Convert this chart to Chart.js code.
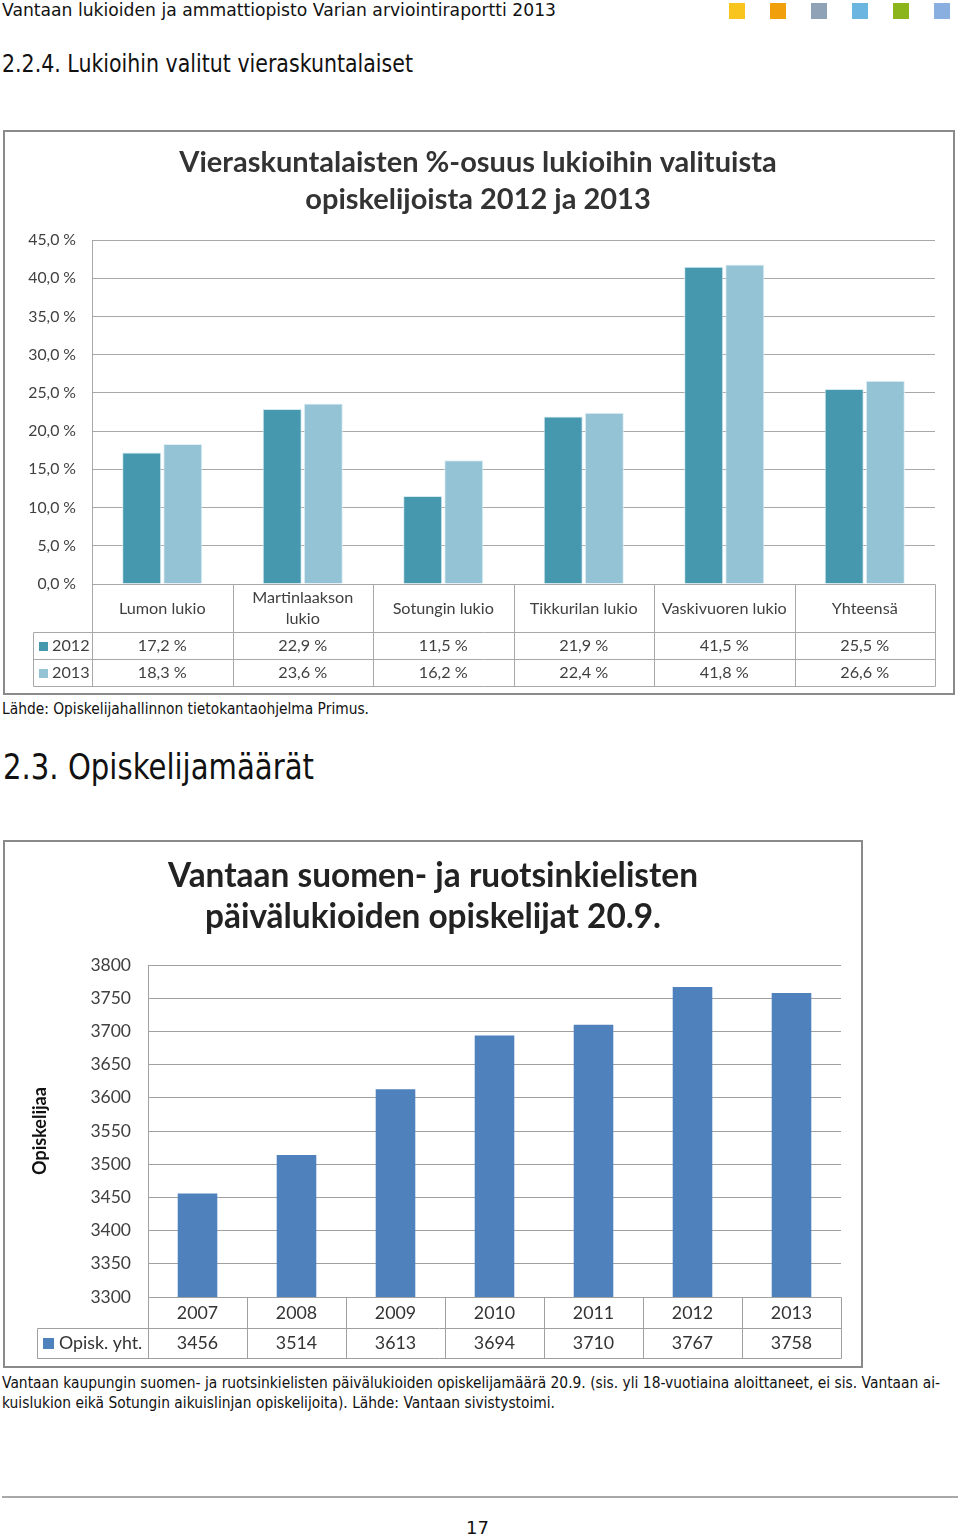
<!DOCTYPE html>
<html>
<head>
<meta charset="utf-8">
<script src="https://cdn.jsdelivr.net/npm/chart.js@4.4.1/dist/chart.umd.min.js"></script>
<style>
  body { margin: 0; background: #fff; width: 960px; height: 1539px; position: relative; overflow: hidden; }
  .t { position: absolute; font-family: "DejaVu Sans", sans-serif; color: #111; white-space: nowrap; transform-origin: 0 50%; }
  .sq { position: absolute; top: 3px; width: 16px; height: 16px; }
  .frame { position: absolute; border: 2px solid #8a8a8a; background: #fff; }
  .frame div { position: relative; width: 100%; height: 100%; }
</style>
</head>
<body>
<div class="t" data-w="554" style="left:2px;top:0;font-size:17px;line-height:20px">Vantaan lukioiden ja ammattiopisto Varian arviointiraportti 2013</div>
<div class="sq" style="left:729px;background:#f8c51f"></div>
<div class="sq" style="left:770px;background:#f29f0c"></div>
<div class="sq" style="left:811px;background:#8fa2b6"></div>
<div class="sq" style="left:852px;background:#6db5e1"></div>
<div class="sq" style="left:893px;background:#8cb51b"></div>
<div class="sq" style="left:934px;background:#88afdf"></div>
<div class="t" data-w="411" style="left:2px;top:49px;font-size:24px;line-height:30px">2.2.4. Lukioihin valitut vieraskuntalaiset</div>

<div class="frame" style="left:3px;top:130px;width:948px;height:561px"><div><canvas id="share"></canvas></div></div>

<div class="t" data-w="367" style="left:2px;top:700px;font-size:15px;line-height:18px">Lähde: Opiskelijahallinnon tietokantaohjelma Primus.</div>
<div class="t" data-w="311" style="left:3px;top:747px;font-size:35px;line-height:40px">2.3. Opiskelijamäärät</div>

<div class="frame" style="left:3px;top:840px;width:856px;height:524px"><div><canvas id="students"></canvas></div></div>

<div class="t" data-w="938" style="left:2px;top:1374px;font-size:15px;line-height:18px">Vantaan kaupungin suomen- ja ruotsinkielisten päivälukioiden opiskelijamäärä 20.9. (sis. yli 18-vuotiaina aloittaneet, ei sis. Vantaan ai-</div>
<div class="t" data-w="553" style="left:2px;top:1394px;font-size:15px;line-height:18px">kuislukion eikä Sotungin aikuislinjan opiskelijoita). Lähde: Vantaan sivistystoimi.</div>
<div style="position:absolute;left:2px;top:1496px;width:956px;height:2px;background:#a8a8a8"></div>
<div class="t" style="left:466px;top:1518px;font-size:18px;line-height:20px">17</div>

<script>
const schools = ['Lumon lukio', ['Martinlaakson', 'lukio'], 'Sotungin lukio', 'Tikkurilan lukio', 'Vaskivuoren lukio', 'Yhteensä'];
const share2012 = [17.2, 22.9, 11.5, 21.9, 41.5, 25.5];
const share2013 = [18.3, 23.6, 16.2, 22.4, 41.8, 26.6];

const years = ['2007', '2008', '2009', '2010', '2011', '2012', '2013'];
const students = [3456, 3514, 3613, 3694, 3710, 3767, 3758];

// stretch the page texts to the widths they have in the report
document.querySelectorAll('.t[data-w]').forEach(el => {
  const w = el.getBoundingClientRect().width;
  el.style.transform = `scaleX(${(+el.dataset.w / w).toFixed(4)})`;
});

Chart.defaults.font.family = 'Lato';
Chart.defaults.color = '#404040';

const pct = v => v.toFixed(1).replace('.', ',') + ' %';

// data table under the plot, columns taken from the x scale
const dataTable = {
  id: 'dataTable',
  afterDraw(chart, args, o) {
    const {ctx, chartArea: a, scales: {x}} = chart;
    const n = chart.data.labels.length;
    const sets = chart.data.datasets;
    const edges = [];
    for (let i = 0; i <= n; i++) edges.push(Math.round(x.getPixelForValue(i - 0.5)) + 0.5);
    const top = Math.round(a.bottom) + 0.5;
    const head = top + o.headHeight;
    const bottom = head + o.rowHeight * sets.length;
    const left = o.left + 0.5;

    ctx.save();
    ctx.strokeStyle = o.lineColor;
    ctx.lineWidth = 1;
    ctx.beginPath();
    edges.forEach(e => { ctx.moveTo(e, top); ctx.lineTo(e, bottom); });
    ctx.moveTo(left, head); ctx.lineTo(left, bottom);
    ctx.moveTo(edges[0], top); ctx.lineTo(edges[n], top);
    for (let r = 0; r <= sets.length; r++) {
      const y = head + r * o.rowHeight;
      ctx.moveTo(left, y); ctx.lineTo(edges[n], y);
    }
    ctx.stroke();

    ctx.font = o.font;
    ctx.fillStyle = o.color;
    ctx.textAlign = 'center';
    ctx.textBaseline = 'middle';
    chart.data.labels.forEach((lab, i) => {
      const lines = [].concat(lab);
      const cx = x.getPixelForValue(i);
      const cy = top + o.headHeight / 2;
      lines.forEach((t, k) => ctx.fillText(t, cx, cy + (k - (lines.length - 1) / 2) * o.lineHeight));
    });

    sets.forEach((ds, r) => {
      const cy = head + r * o.rowHeight + o.rowHeight / 2;
      ctx.fillStyle = ds.backgroundColor;
      ctx.fillRect(o.left + o.boxPad, Math.round(cy - o.box / 2), o.box, o.box);
      ctx.fillStyle = o.color;
      ctx.textAlign = 'left';
      ctx.fillText(ds.label, o.left + o.boxPad + o.box + o.gap, cy);
      ctx.textAlign = 'center';
      ds.data.forEach((v, i) => ctx.fillText(o.format(v), x.getPixelForValue(i), cy));
    });
    ctx.restore();
  }
};

new Chart(document.getElementById('share'), {
  type: 'bar',
  data: {
    labels: schools,
    datasets: [
      { label: '2012', data: share2012, backgroundColor: '#4598ae', borderColor: '#d6eaf1', borderWidth: 1 },
      { label: '2013', data: share2013, backgroundColor: '#93c3d5', borderColor: '#e2f0f5', borderWidth: 1 }
    ]
  },
  options: {
    responsive: true,
    maintainAspectRatio: false,
    animation: false,
    layout: { padding: { left: 16, right: 18, top: 0, bottom: 109 } },
    datasets: { bar: { categoryPercentage: 0.585, barPercentage: 0.95 } },
    scales: {
      x: { display: false },
      y: {
        min: 0, max: 45,
        afterFit(s) { s.width = 71; },
        ticks: { stepSize: 5, padding: 16, font: { size: 15.8 }, color: '#404040', callback: v => pct(v) },
        grid: { color: '#a8a8a8', drawTicks: false },
        border: { display: true, color: '#a8a8a8' }
      }
    },
    plugins: {
      legend: { display: false },
      tooltip: { enabled: false },
      title: {
        display: true,
        text: ['Vieraskuntalaisten %-osuus lukioihin valituista', 'opiskelijoista 2012 ja 2013'],
        font: { size: 29, weight: 'bold', lineHeight: 1.276 },
        color: '#333',
        padding: { top: 12, bottom: 22 }
      },
      dataTable: {
        left: 28, headHeight: 48, rowHeight: 27, lineHeight: 21,
        box: 9, boxPad: 6, gap: 4,
        font: '16.2px Lato', color: '#404040', lineColor: '#a8a8a8',
        format: pct
      }
    }
  },
  plugins: [dataTable]
});

new Chart(document.getElementById('students'), {
  type: 'bar',
  data: {
    labels: years,
    datasets: [
      { label: 'Opisk. yht.', data: students, backgroundColor: '#4f81bd' }
    ]
  },
  options: {
    responsive: true,
    maintainAspectRatio: false,
    animation: false,
    layout: { padding: { left: 20, right: 20, top: 0, bottom: 69 } },
    datasets: { bar: { categoryPercentage: 0.4, barPercentage: 1 } },
    scales: {
      x: { display: false },
      y: {
        min: 3300, max: 3800,
        afterFit(s) { s.width = 123; },
        ticks: { stepSize: 50, padding: 17, font: { size: 17.5 }, color: '#404040', callback: v => String(v) },
        grid: { color: '#a0a0a0', drawTicks: false },
        border: { display: true, color: '#a0a0a0' },
        title: { display: true, text: 'Opiskelijaa', font: { size: 18, weight: 'bold' }, color: '#111', padding: { top: 4 } }
      }
    },
    plugins: {
      legend: { display: false },
      tooltip: { enabled: false },
      title: {
        display: true,
        text: ['Vantaan suomen- ja ruotsinkielisten', 'päivälukioiden opiskelijat 20.9.'],
        font: { size: 33.4, weight: 'bold', lineHeight: 1.228 },
        color: '#222',
        padding: { top: 14, bottom: 27 }
      },
      dataTable: {
        left: 32, headHeight: 31, rowHeight: 30, lineHeight: 20,
        box: 11, boxPad: 6, gap: 5,
        font: '17.8px Lato', color: '#333', lineColor: '#a0a0a0',
        format: v => String(v)
      }
    }
  },
  plugins: [dataTable]
});
</script>
</body>
</html>
